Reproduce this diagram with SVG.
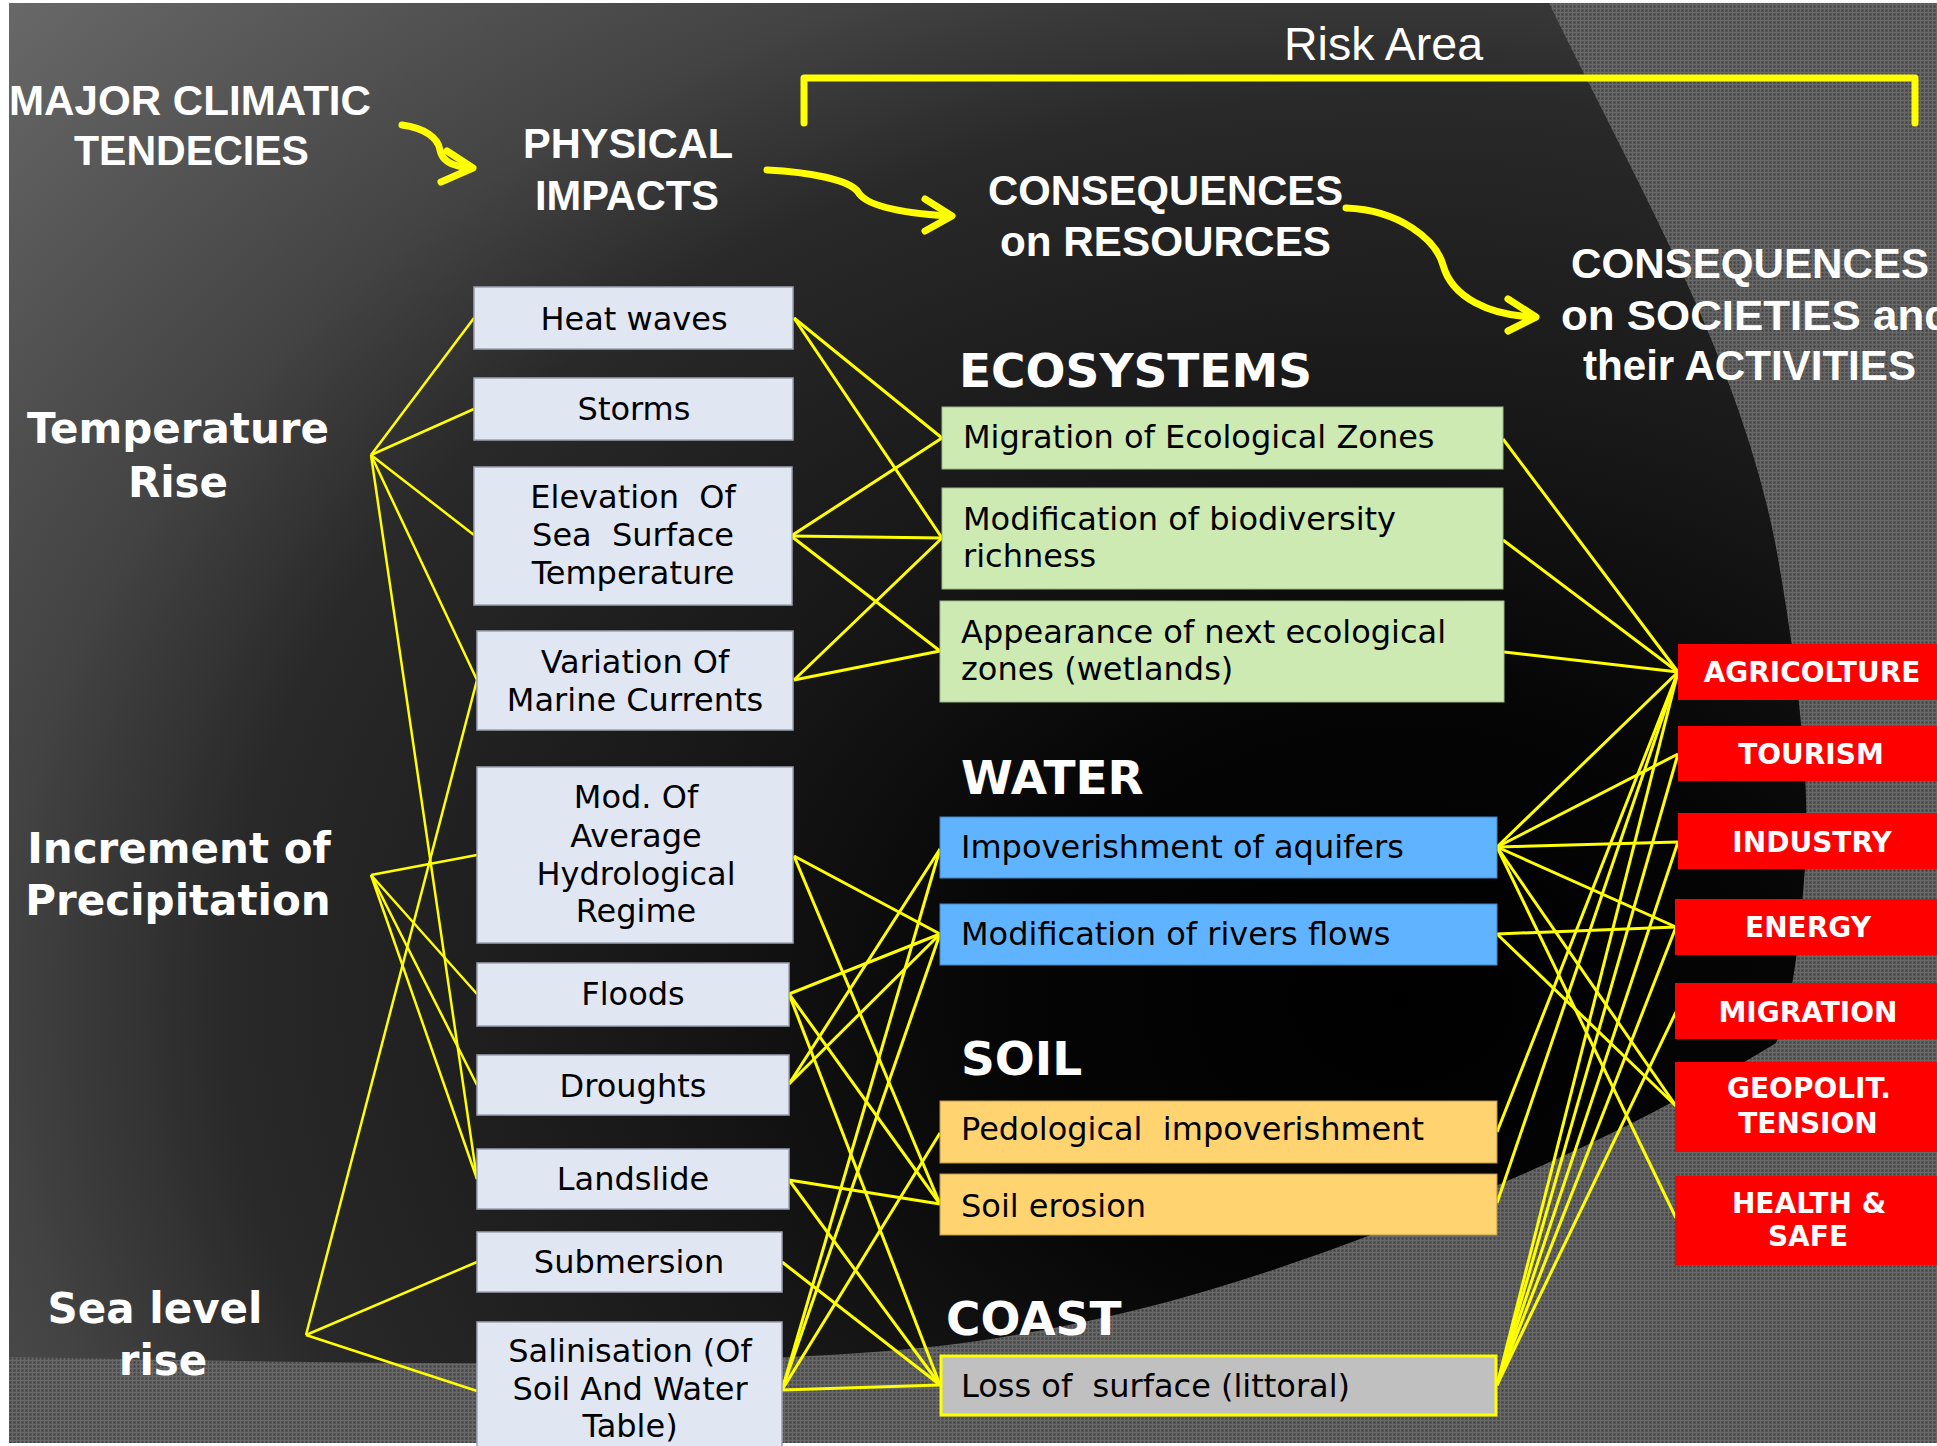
<svg xmlns="http://www.w3.org/2000/svg" width="1937" height="1446" viewBox="0 0 1937 1446">
<defs>
<style>
.hdr{font-family:"Liberation Sans Narrow","Liberation Sans",Arial,sans-serif;font-weight:bold;font-size:42px;fill:#fff}
.risk{font-family:"Liberation Sans Narrow","Liberation Sans",Arial,sans-serif;font-size:46px;fill:#fff}
.cat{font-family:"DejaVu Sans",Verdana,sans-serif;font-weight:bold;font-size:42px;fill:#fff;text-anchor:middle}
.sec{font-family:"DejaVu Sans",Verdana,sans-serif;font-weight:bold;font-size:47px;fill:#fff}
.lbl{font-family:"DejaVu Sans",Verdana,sans-serif;font-size:32px;fill:#000;white-space:pre}
.mid{text-anchor:middle}
.soc{font-family:"DejaVu Sans",Verdana,sans-serif;font-weight:bold;font-size:28px;fill:#fff;text-anchor:middle}
.phys{fill:#e1e6f3;stroke:#9ea3b3;stroke-width:1.5}
.eco{fill:#cceab2;stroke:#9fb98a;stroke-width:1}
.water{fill:#60b4ff;stroke:#3f86c4;stroke-width:1}
.soil{fill:#ffd470;stroke:#b8964a;stroke-width:1}
.coast{fill:#c0c0c0;stroke:#ffff00;stroke-width:3}
.red{fill:#ff0000}
.cn line{stroke:#ffff00;stroke-width:3}
.hub line{stroke:#ffff00;stroke-width:2.5}
.arr{fill:none;stroke:#ffff00;stroke-width:7;stroke-linecap:round;stroke-linejoin:round}
</style>
<pattern id="tex" width="4" height="4" patternUnits="userSpaceOnUse">
<rect width="4" height="4" fill="#555"/>
<rect width="4" height="1" fill="#686868"/>
<rect width="1" height="4" fill="#686868"/>
<rect x="2" y="2" width="1" height="1" fill="#3c3c3c"/>
</pattern>
<radialGradient id="bg" gradientUnits="userSpaceOnUse" cx="1400" cy="1000" r="1950" gradientTransform="translate(1400 1000) scale(1 0.77) translate(-1400 -1000)">
<stop offset="0" stop-color="#000"/>
<stop offset="0.2" stop-color="#050505"/>
<stop offset="0.38" stop-color="#171717"/>
<stop offset="0.6" stop-color="#292929"/>
<stop offset="0.72" stop-color="#434343"/>
<stop offset="1" stop-color="#6c6c6c"/>
</radialGradient>
</defs>

<rect width="1937" height="1446" fill="#fff"/>
<rect x="9" y="3" width="1928" height="1440" fill="url(#tex)"/>
<path d="M9,3 L1549,3 C1640,190 1740,360 1776,547 C1800,680 1812,800 1804,880 C1798,960 1790,1010 1776,1043 C1740,1065 1650,1120 1498,1185 C1300,1265 1150,1320 939,1346 C700,1372 300,1362 9,1357 Z" fill="url(#bg)"/>

<g id="headers">
<text class="hdr" x="9" y="115" textLength="362" lengthAdjust="spacingAndGlyphs">MAJOR CLIMATIC</text>
<text class="hdr" x="74" y="165" textLength="235" lengthAdjust="spacingAndGlyphs">TENDECIES</text>
<text class="hdr" x="523" y="158" textLength="210" lengthAdjust="spacingAndGlyphs">PHYSICAL</text>
<text class="hdr" x="535" y="210" textLength="184" lengthAdjust="spacingAndGlyphs">IMPACTS</text>
<text class="hdr" x="988" y="205" textLength="355" lengthAdjust="spacingAndGlyphs">CONSEQUENCES</text>
<text class="hdr" x="1000" y="256" textLength="331" lengthAdjust="spacingAndGlyphs">on RESOURCES</text>
<text class="hdr" x="1571" y="278" textLength="358" lengthAdjust="spacingAndGlyphs">CONSEQUENCES</text>
<text class="hdr" x="1561" y="330" textLength="390" lengthAdjust="spacingAndGlyphs">on SOCIETIES and</text>
<text class="hdr" x="1583" y="380" textLength="333" lengthAdjust="spacingAndGlyphs">their ACTIVITIES</text>
<text class="risk" x="1284" y="60" textLength="199" lengthAdjust="spacingAndGlyphs">Risk Area</text>
<path class="arr" d="M804,123 L804,78 L1915,78 L1915,123"/>
<path class="arr" d="M402,125 C425,128 438,138 440,150 C442,160 450,166 470,168"/>
<polyline class="arr" points="447,151 473,168 441,182"/>
<path class="arr" d="M767,170 C810,172 850,180 858,192 C866,206 900,213 948,216"/>
<polyline class="arr" points="925,199 952,216 925,231"/>
<path class="arr" d="M1346,208 C1400,210 1436,240 1443,265 C1452,298 1490,315 1532,317"/>
<polyline class="arr" points="1508,299 1536,317 1508,331"/>
</g>

<g id="categories">
<g id="cat-temperature"><text class="cat" x="178" y="443">Temperature</text><text class="cat" x="178" y="497">Rise</text></g>
<g id="cat-precipitation"><text class="cat" x="179" y="863">Increment of</text><text class="cat" x="178" y="915">Precipitation</text></g>
<g id="cat-sealevel"><text class="cat" x="155" y="1323">Sea level</text><text class="cat" x="163" y="1375">rise</text></g>
</g>

<g id="connectors">
<g class="hub">
<line x1="371" y1="455" x2="474" y2="318"/>
<line x1="371" y1="455" x2="474" y2="409"/>
<line x1="371" y1="455" x2="474" y2="535"/>
<line x1="371" y1="455" x2="477" y2="680"/>
<line x1="371" y1="455" x2="477" y2="1179"/>
<line x1="371" y1="875" x2="477" y2="855"/>
<line x1="371" y1="875" x2="477" y2="994"/>
<line x1="371" y1="875" x2="477" y2="1085"/>
<line x1="371" y1="875" x2="477" y2="1179"/>
<line x1="306" y1="1335" x2="477" y2="680"/>
<line x1="306" y1="1335" x2="477" y2="1262"/>
<line x1="306" y1="1335" x2="477" y2="1391"/>
</g>
<g class="cn">
<line x1="794" y1="318" x2="942" y2="438"/>
<line x1="794" y1="318" x2="942" y2="538"/>
<line x1="791" y1="536" x2="942" y2="438"/>
<line x1="791" y1="536" x2="942" y2="538"/>
<line x1="791" y1="536" x2="940" y2="651"/>
<line x1="794" y1="680" x2="942" y2="538"/>
<line x1="794" y1="680" x2="940" y2="651"/>
<line x1="794" y1="856" x2="940" y2="934"/>
<line x1="794" y1="856" x2="940" y2="1204"/>
<line x1="789" y1="994" x2="940" y2="934"/>
<line x1="789" y1="994" x2="940" y2="1204"/>
<line x1="789" y1="994" x2="940" y2="1385"/>
<line x1="789" y1="1084" x2="940" y2="849"/>
<line x1="789" y1="1084" x2="940" y2="934"/>
<line x1="789" y1="1180" x2="940" y2="1204"/>
<line x1="789" y1="1180" x2="940" y2="1385"/>
<line x1="782" y1="1262" x2="940" y2="1385"/>
<line x1="782" y1="1390" x2="940" y2="849"/>
<line x1="782" y1="1390" x2="940" y2="934"/>
<line x1="782" y1="1390" x2="940" y2="1133"/>
<line x1="782" y1="1390" x2="940" y2="1385"/>

<line x1="1503" y1="439" x2="1678" y2="672"/>
<line x1="1503" y1="540" x2="1678" y2="672"/>
<line x1="1504" y1="652" x2="1678" y2="672"/>
<line x1="1497" y1="847" x2="1678" y2="672"/>
<line x1="1497" y1="847" x2="1678" y2="754"/>
<line x1="1497" y1="847" x2="1678" y2="842"/>
<line x1="1497" y1="847" x2="1676" y2="927"/>
<line x1="1497" y1="847" x2="1676" y2="1106"/>
<line x1="1497" y1="847" x2="1676" y2="1218"/>
<line x1="1497" y1="934" x2="1676" y2="927"/>
<line x1="1497" y1="934" x2="1676" y2="1106"/>
<line x1="1497" y1="1132" x2="1678" y2="672"/>
<line x1="1497" y1="1203" x2="1678" y2="672"/>
<line x1="1497" y1="1385" x2="1678" y2="672"/>
<line x1="1497" y1="1385" x2="1678" y2="754"/>
<line x1="1497" y1="1385" x2="1678" y2="842"/>
<line x1="1497" y1="1385" x2="1676" y2="927"/>
<line x1="1497" y1="1385" x2="1676" y2="1012"/>
</g>
</g>

<g id="node-heat"><rect class="phys" x="474" y="287" width="319" height="62"/><text class="lbl mid" x="634" y="330">Heat waves</text></g>
<g id="node-storms"><rect class="phys" x="474" y="378" width="319" height="62"/><text class="lbl mid" x="634" y="420">Storms</text></g>
<g id="node-elevation"><rect class="phys" x="474" y="467" width="318" height="138"/><text class="lbl mid" x="633" y="508" xml:space="preserve">Elevation  Of</text><text class="lbl mid" x="633" y="546" xml:space="preserve">Sea  Surface</text><text class="lbl mid" x="633" y="584">Temperature</text></g>
<g id="node-variation"><rect class="phys" x="477" y="631" width="316" height="99"/><text class="lbl mid" x="635" y="673">Variation Of</text><text class="lbl mid" x="635" y="711">Marine Currents</text></g>
<g id="node-modhydro"><rect class="phys" x="477" y="767" width="316" height="176"/><text class="lbl mid" x="636" y="808">Mod. Of</text><text class="lbl mid" x="636" y="847">Average</text><text class="lbl mid" x="636" y="885">Hydrological</text><text class="lbl mid" x="636" y="922">Regime</text></g>
<g id="node-floods"><rect class="phys" x="477" y="963" width="312" height="63"/><text class="lbl mid" x="633" y="1005">Floods</text></g>
<g id="node-droughts"><rect class="phys" x="477" y="1055" width="312" height="60"/><text class="lbl mid" x="633" y="1097">Droughts</text></g>
<g id="node-landslide"><rect class="phys" x="477" y="1149" width="312" height="60"/><text class="lbl mid" x="633" y="1190">Landslide</text></g>
<g id="node-submersion"><rect class="phys" x="477" y="1232" width="305" height="60"/><text class="lbl mid" x="629" y="1273">Submersion</text></g>
<g id="node-salinisation"><rect class="phys" x="477" y="1322" width="305" height="140"/><text class="lbl mid" x="630" y="1362">Salinisation (Of</text><text class="lbl mid" x="630" y="1400">Soil And Water</text><text class="lbl mid" x="630" y="1437">Table)</text></g>

<g id="sections">
<text class="sec" x="959" y="387">ECOSYSTEMS</text>
<text class="sec" x="961" y="794">WATER</text>
<text class="sec" x="961" y="1075">SOIL</text>
<text class="sec" x="946" y="1335">COAST</text>
</g>

<g id="node-migration-zones"><rect class="eco" x="942" y="407" width="561" height="62"/><text class="lbl" x="963" y="448">Migration of Ecological Zones</text></g>
<g id="node-biodiversity"><rect class="eco" x="942" y="488" width="561" height="101"/><text class="lbl" x="963" y="530">Modification of biodiversity</text><text class="lbl" x="963" y="567">richness</text></g>
<g id="node-wetlands"><rect class="eco" x="940" y="601" width="564" height="101"/><text class="lbl" x="961" y="643">Appearance of next ecological</text><text class="lbl" x="961" y="680">zones (wetlands)</text></g>
<g id="node-aquifers"><rect class="water" x="940" y="817" width="557" height="61"/><text class="lbl" x="961" y="858">Impoverishment of aquifers</text></g>
<g id="node-rivers"><rect class="water" x="940" y="904" width="557" height="61"/><text class="lbl" x="961" y="945">Modification of rivers flows</text></g>
<g id="node-pedological"><rect class="soil" x="940" y="1101" width="557" height="62"/><text class="lbl" x="961" y="1140" xml:space="preserve">Pedological  impoverishment</text></g>
<g id="node-erosion"><rect class="soil" x="940" y="1174" width="557" height="61"/><text class="lbl" x="961" y="1217">Soil erosion</text></g>
<g id="node-littoral"><rect class="coast" x="941" y="1356" width="555" height="59"/><text class="lbl" x="961" y="1397" xml:space="preserve">Loss of  surface (littoral)</text></g>

<g id="node-agricolture"><rect class="red" x="1678" y="644" width="259" height="56"/><text class="soc" x="1812" y="682">AGRICOLTURE</text></g>
<g id="node-tourism"><rect class="red" x="1678" y="726" width="259" height="55"/><text class="soc" x="1811" y="764">TOURISM</text></g>
<g id="node-industry"><rect class="red" x="1678" y="813" width="259" height="56"/><text class="soc" x="1812" y="852">INDUSTRY</text></g>
<g id="node-energy"><rect class="red" x="1675" y="899" width="262" height="56"/><text class="soc" x="1808" y="937">ENERGY</text></g>
<g id="node-migration"><rect class="red" x="1675" y="983" width="262" height="56"/><text class="soc" x="1808" y="1022">MIGRATION</text></g>
<g id="node-geopolit"><rect class="red" x="1675" y="1062" width="262" height="90"/><text class="soc" x="1809" y="1098">GEOPOLIT.</text><text class="soc" x="1808" y="1133">TENSION</text></g>
<g id="node-health"><rect class="red" x="1675" y="1176" width="262" height="89"/><text class="soc" x="1809" y="1213">HEALTH &amp;</text><text class="soc" x="1808" y="1246">SAFE</text></g>
</svg>
